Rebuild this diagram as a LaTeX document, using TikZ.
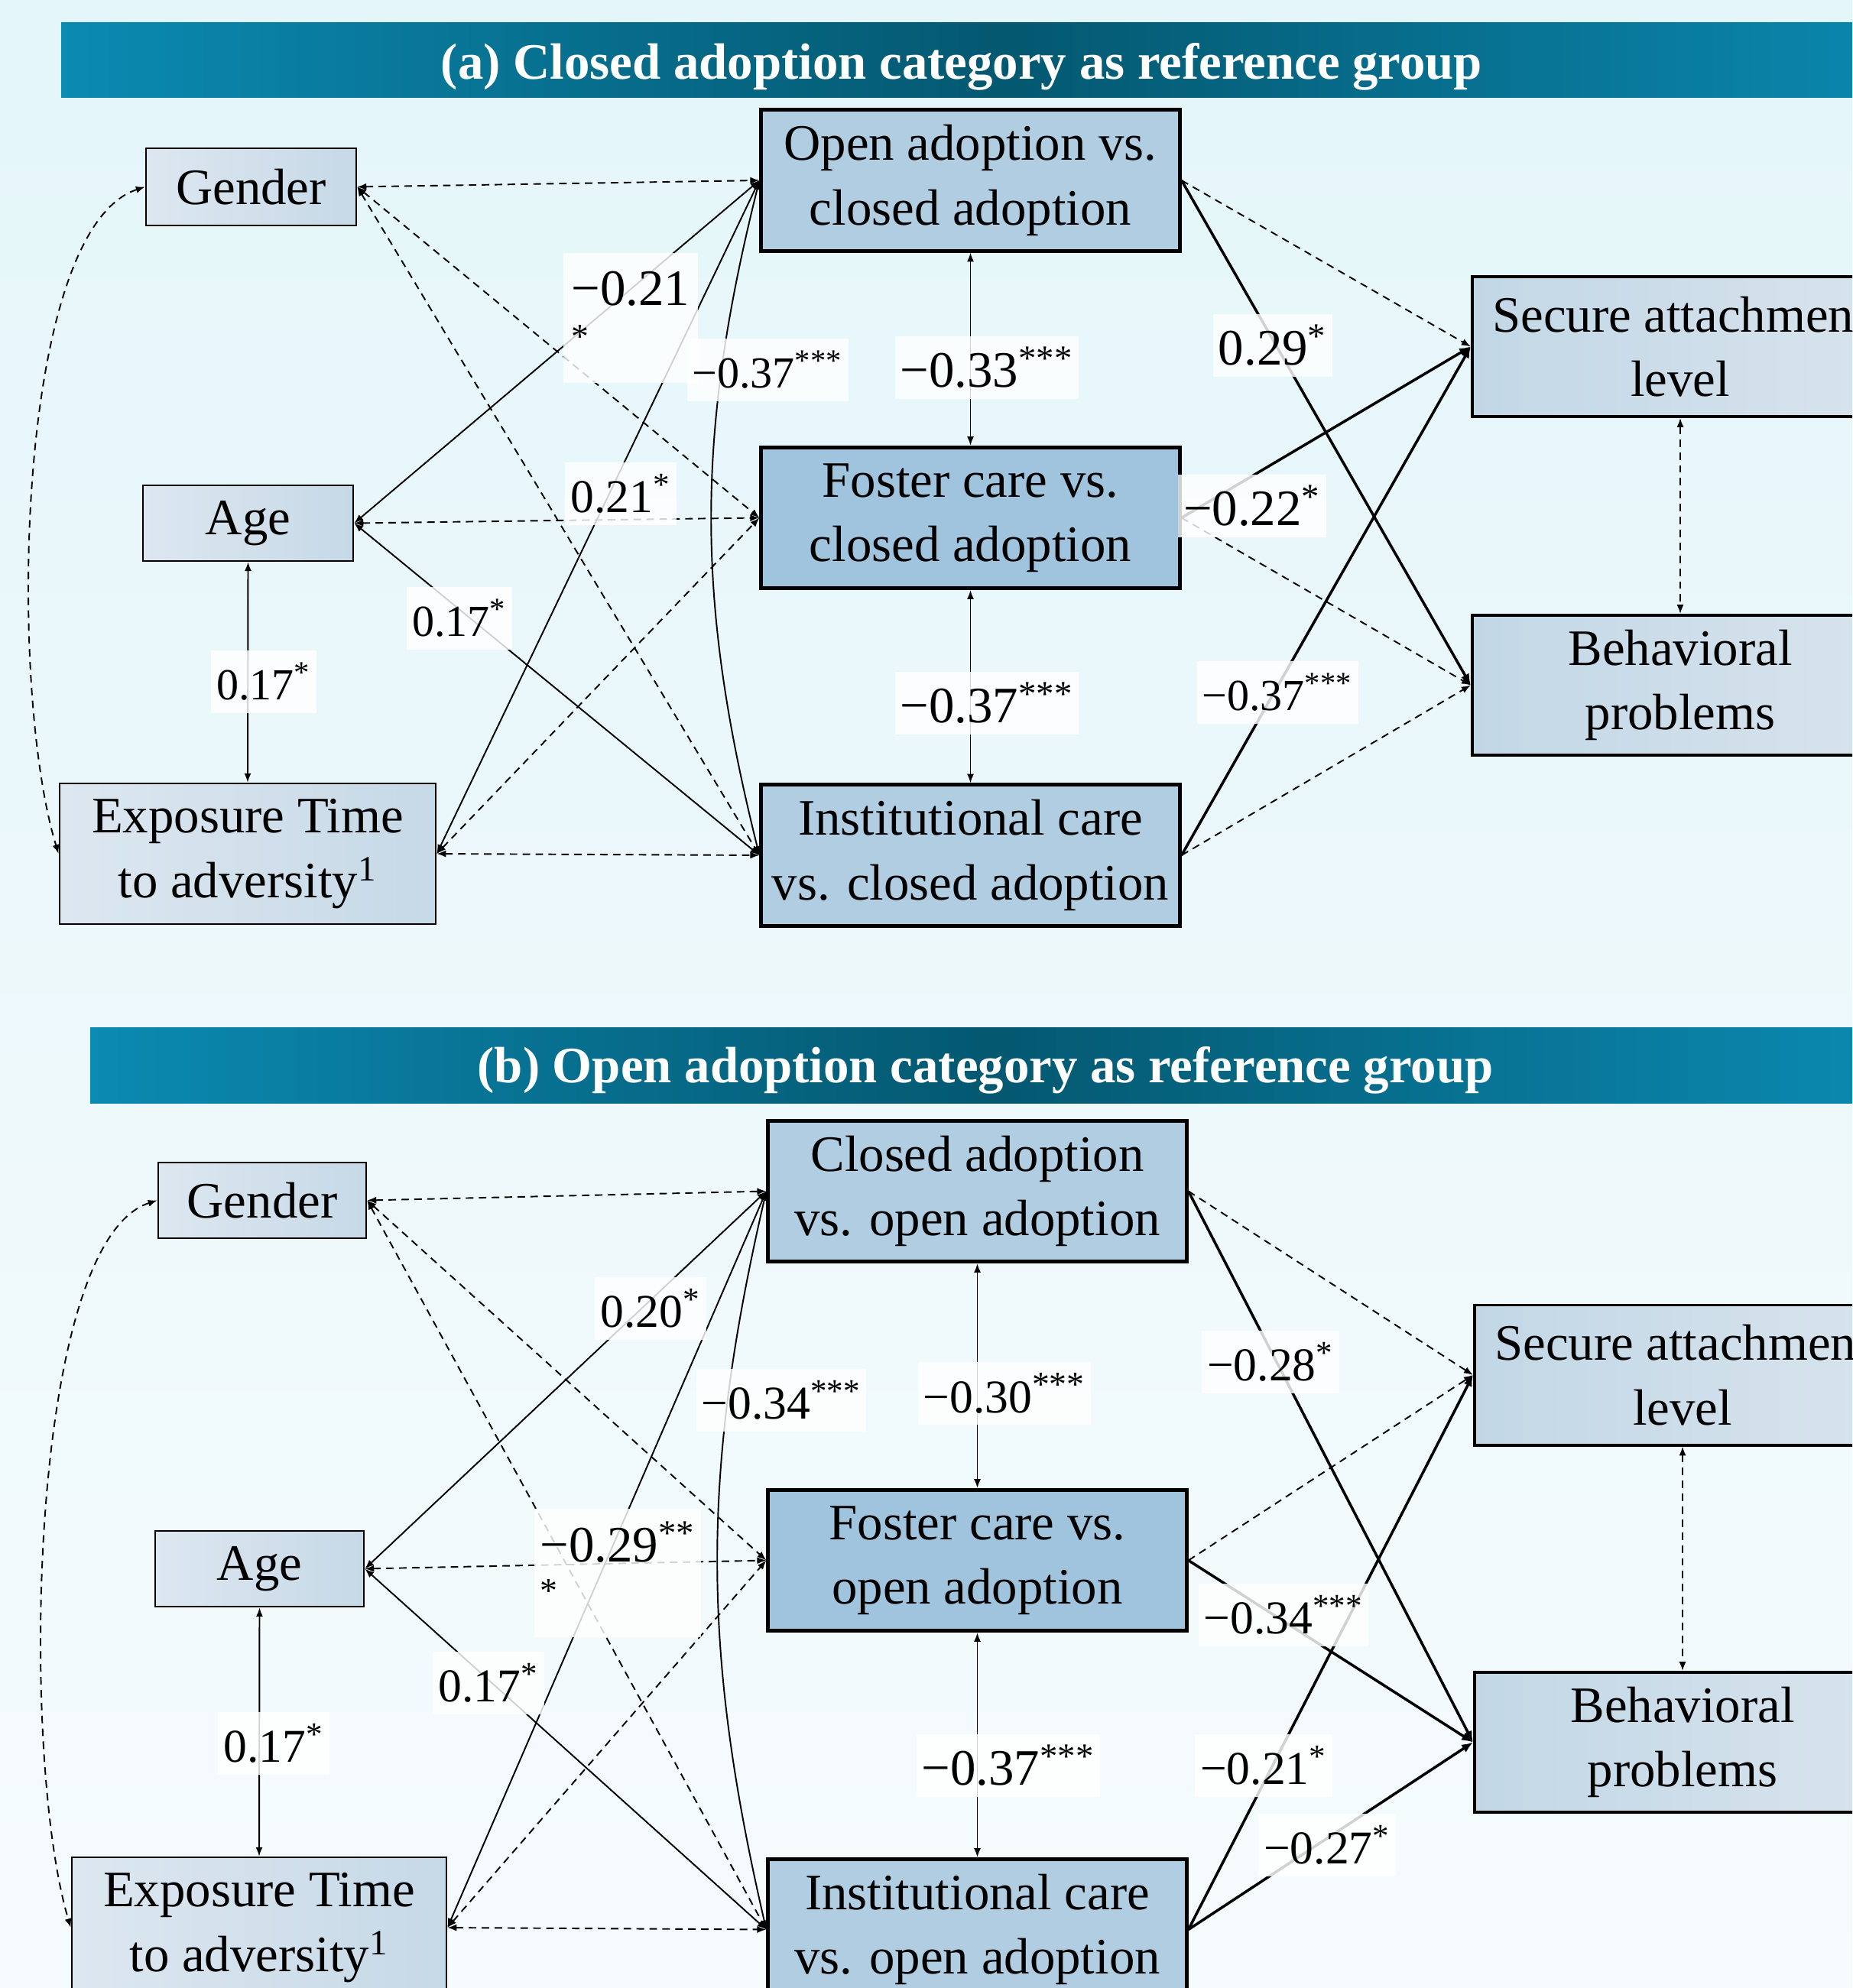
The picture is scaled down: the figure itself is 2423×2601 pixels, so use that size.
\documentclass[tikz,border=0pt]{standalone}
\usepackage{fontspec}
\setmainfont{Liberation Serif}
\usepackage{tikz}
\usetikzlibrary{arrows.meta}

\definecolor{bgtop}{RGB}{228,246,250}
\definecolor{bgbot}{RGB}{246,251,253}
\definecolor{bannerlt}{RGB}{11,138,178}
\definecolor{bannerdk}{RGB}{4,88,112}
\definecolor{covL}{RGB}{221,231,240}
\definecolor{covR}{RGB}{198,217,231}
\definecolor{grpA}{RGB}{176,205,225}
\definecolor{grpB}{RGB}{160,196,221}
\definecolor{outL}{RGB}{194,215,230}
\definecolor{outR}{RGB}{216,228,237}

\newcommand{\boxfont}{\fontsize{19}{24}\selectfont}
\newcommand{\lblbig}{\fontsize{19}{22}\selectfont}
\newcommand{\lblmid}{\fontsize{17.5}{20}\selectfont}
\newcommand{\lblsmall}{\fontsize{16.5}{19}\selectfont}
\newcommand{\starfont}{\fontsize{13}{15}\selectfont}

\tikzset{
  covbox/.style={draw, line width=0.7pt, left color=covL, right color=covR, inner sep=0pt, align=center, font=\boxfont},
  grpbox/.style={draw, line width=1.4pt, inner sep=0pt, align=center, font=\boxfont, minimum width=5.47cm, minimum height=1.84cm},
  outbox/.style={draw, line width=1.1pt, left color=outL, right color=outR, inner sep=0pt, align=center, font=\boxfont, minimum width=5.44cm, minimum height=1.83cm},
  title/.style={text=white, font=\boxfont\bfseries},
  lbl/.style={fill=white, fill opacity=0.82, text opacity=1, inner xsep=2pt, minimum height=0.82cm},
  corr/.style={<->, line width=0.55pt},
  dcorr/.style={<->, line width=0.55pt, dash pattern=on 2.8pt off 2pt},
  dpath/.style={->, line width=0.55pt, dash pattern=on 2.8pt off 2pt},
  spath/.style={-{Latex[length=4.2pt,width=3.4pt]}, line width=1pt}
}

\begin{document}
\begin{tikzpicture}[x=0.01cm, y=-0.01cm, >={Latex[length=3.4pt,width=2.6pt]}]
    \useasboundingbox (0,0) rectangle (2423,2601);
    \clip (0,0) rectangle (2423,2601);
    \shade[top color=bgtop, bottom color=bgbot] (0,0) rectangle (2423,2601);

    % Draw the two banners
    \shade[left color=bannerlt, right color=bannerlt, middle color=bannerdk] (80,30) rectangle (2550,128);
    \node[title] (tA) at (1258,87) {(a) Closed adoption category as reference group};
    \shade[left color=bannerlt, right color=bannerlt, middle color=bannerdk] (118,1344) rectangle (2480,1443);
    \node[title] (tB) at (1289,1400) {(b) Open adoption category as reference group};

    % Draw the boxes of panel (a)
    \node[covbox, minimum width=2.75cm, minimum height=1.01cm] (gA) at (328.5,244.5) {Gender};
    \node[covbox, minimum width=2.75cm, minimum height=0.99cm] (aA) at (324.5,684.5) {Age};
    \node[covbox, minimum width=4.92cm, minimum height=1.84cm] (eA) at (324,1117) {Exposure Time\\to adversity\textsuperscript{1}};
    \node[grpbox, fill=grpA] (oA) at (1269.5,236) {Open adoption vs.\\closed adoption};
    \node[grpbox, fill=grpB] (fA) at (1269.5,677.5) {Foster care vs.\\closed adoption};
    \node[grpbox, fill=grpA] (iA) at (1269.5,1119) {Institutional care\\vs. closed adoption};
    \node[outbox] (sA) at (2198,453.5) {Secure attachment\\level};
    \node[outbox] (bA) at (2198,896.5) {Behavioral\\problems};

    % Draw the boxes of panel (b)
    \node[covbox, minimum width=2.72cm, minimum height=0.99cm] (gB) at (343,1570.5) {Gender};
    \node[covbox, minimum width=2.73cm, minimum height=0.99cm] (aB) at (339.5,2052.5) {Age};
    \node[covbox, minimum width=4.90cm, minimum height=1.84cm] (eB) at (339,2522) {Exposure Time\\to adversity\textsuperscript{1}};
    \node[grpbox, fill=grpA] (cB) at (1278.5,1558.5) {Closed adoption\\vs. open adoption};
    \node[grpbox, fill=grpB] (fB) at (1278.5,2041.5) {Foster care vs.\\open adoption};
    \node[grpbox, fill=grpA] (iB) at (1278.5,2524.5) {Institutional care\\vs. open adoption};
    \node[outbox] (sB) at (2201,1799) {Secure attachment\\level};
    \node[outbox] (bB) at (2201,2279.5) {Behavioral\\problems};

    % Dashed (non-significant) links
    \foreach \src/\dst in {gA.east/oA.west, gA.east/fA.west, gA.east/iA.west, aA.east/fA.west, eA.east/fA.west, eA.east/iA.west,
                           gB.east/cB.west, gB.east/fB.west, gB.east/iB.west, aB.east/fB.west, eB.east/fB.west, eB.east/iB.west,
                           sA.south/bA.north, sB.south/bB.north}
        \draw[dcorr] (\src) -- (\dst);
    \draw[dcorr] (gA.west) .. controls (20,300) and (10,900) .. (eA.west);
    \draw[dcorr] (gB.west) .. controls (36,1625) and (26,2300) .. (eB.west);
    \foreach \src/\dst in {oA.east/sA.west, fA.east/bA.west, iA.east/bA.west, cB.east/sB.west, fB.east/sB.west}
        \draw[dpath] (\src) -- (\dst);

    % Solid correlations
    \foreach \src/\dst in {aA.east/oA.west, eA.east/oA.west, aA.east/iA.west, aA.south/eA.north, oA.south/fA.north, fA.south/iA.north,
                           aB.east/cB.west, eB.east/cB.west, aB.east/iB.west, aB.south/eB.north, cB.south/fB.north, fB.south/iB.north}
        \draw[corr] (\src) -- (\dst);
    \draw[corr] (oA.west) to[bend right=14] (iA.west);
    \draw[corr] (cB.west) to[bend right=13] (iB.west);

    % Significant paths to the outcomes
    \foreach \src/\dst in {oA.east/bA.west, fA.east/sA.west, iA.east/sA.west,
                           cB.east/bB.west, fB.east/bB.west, iB.east/sB.west, iB.east/bB.west}
        \draw[spath] (\src) -- (\dst);

    % Coefficients of panel (a)
    \node[lbl, font=\lblbig, minimum width=1.76cm, minimum height=1.69cm, align=left] (lAO) at (825,416) {−0.21\\[-6pt]{\starfont *}\rule[-6pt]{0pt}{6pt}};
    \node[lbl, font=\lblmid] (lEO) at (812,646) {0.21\textsuperscript{*}};
    \node[lbl, font=\lblsmall] (lOI) at (1004,484) {−0.37\textsuperscript{***}};
    \node[lbl, font=\lblbig] (lOF) at (1291,481) {−0.33\textsuperscript{***}};
    \node[lbl, font=\lblbig] (lFI) at (1291,920) {−0.37\textsuperscript{***}};
    \node[lbl, font=\lblbig] (lOB) at (1665,452) {0.29\textsuperscript{*}};
    \node[lbl, font=\lblbig] (lFS) at (1638,662) {−0.22\textsuperscript{*}};
    \node[lbl, font=\lblsmall] (lIS) at (1671,906) {−0.37\textsuperscript{***}};
    \node[lbl, font=\lblsmall] (lAI) at (601,809) {0.17\textsuperscript{*}};
    \node[lbl, font=\lblsmall] (lAE) at (345,892) {0.17\textsuperscript{*}};

    % Coefficients of panel (b)
    \node[lbl, font=\lblmid] (mAC) at (851,1712) {0.20\textsuperscript{*}};
    \node[lbl, font=\lblmid] (mCI) at (1022,1832) {−0.34\textsuperscript{***}};
    \node[lbl, font=\lblbig, minimum width=2.07cm, minimum height=1.67cm, align=left] (mEC) at (808,2058) {−0.29\textsuperscript{**}\\[-7pt]{\starfont *}\rule[-8pt]{0pt}{8pt}};
    \node[lbl, font=\lblmid] (mAI) at (639,2202) {0.17\textsuperscript{*}};
    \node[lbl, font=\lblmid] (mAE) at (358,2281) {0.17\textsuperscript{*}};
    \node[lbl, font=\lblmid] (mCF) at (1314,1823) {−0.30\textsuperscript{\starfont ***}};
    \node[lbl, font=\lblbig] (mFI) at (1319,2310) {−0.37\textsuperscript{***}};
    \node[lbl, font=\lblmid] (mCB) at (1662,1782) {−0.28\textsuperscript{*}};
    \node[lbl, font=\lblmid] (mFB) at (1679,2113) {−0.34\textsuperscript{***}};
    \node[lbl, font=\lblmid] (mIS) at (1653,2310) {−0.21\textsuperscript{*}};
    \node[lbl, font=\lblmid] (mIB) at (1736,2414) {−0.27\textsuperscript{*}};
\end{tikzpicture}
\end{document}
